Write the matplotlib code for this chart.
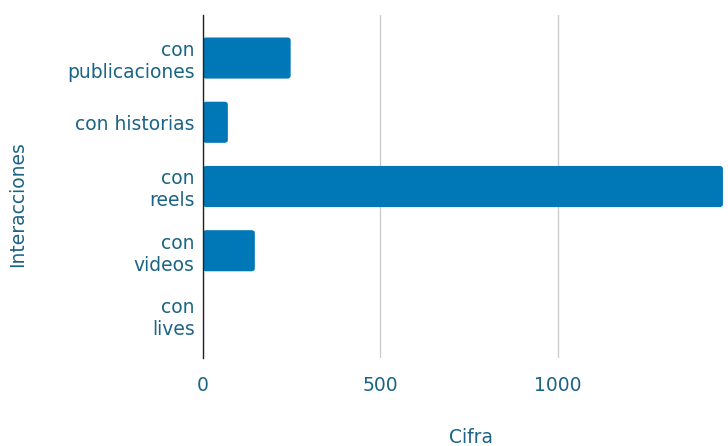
import matplotlib
matplotlib.use('Agg')
import matplotlib.pyplot as plt
from matplotlib.patches import FancyBboxPatch

categorias = ["con\npublicaciones", "con historias", "con\nreels", "con\nvideos", "con\nlives"]
valores = [247, 70, 1465, 146, 0]

color_barra = "#0077b6"
color_texto = "#1b6485"

plt.rcParams['font.family'] = ['DejaVu Sans']
fig = plt.figure(figsize=(7.28, 4.46), dpi=100)
ax = fig.add_axes([203/728, 1-358/446, 521/728, 343/446])

pos = list(range(len(categorias)))
barras = ax.barh(pos, valores, height=0.64, color=color_barra)

# esquinas redondeadas: cambiar cada barra por un FancyBboxPatch
for b in barras:
    x, y = b.get_x(), b.get_y()
    w, h = b.get_width(), b.get_height()
    b.set_visible(False)
    if w <= 0:
        continue
    p = FancyBboxPatch((x, y), w, h, boxstyle="round,pad=0,rounding_size=9",
                       mutation_aspect=0.0052, facecolor=color_barra,
                       edgecolor="none", zorder=3)
    ax.add_patch(p)

ax.set_xlim(0, 1468)
ax.set_ylim(len(categorias) - 0.33, -0.67)
ax.set_yticks(pos)
ax.set_yticklabels(categorias, fontsize=13.5, color=color_texto, linespacing=1.2)
ax.set_xticks([0, 500, 1000])
ax.set_xticklabels(["0", "500", "1000"], fontsize=13.5, color=color_texto)
ax.tick_params(axis='y', length=0, pad=6)
ax.tick_params(axis='x', length=0, pad=13)

ax.grid(axis='x', color="#cccccc", linewidth=1)
ax.set_axisbelow(True)
for s in ['top', 'right', 'bottom']:
    ax.spines[s].set_visible(False)
ax.spines['left'].set_color("#222222")
ax.spines['left'].set_linewidth(1)
ax.spines['left'].set_zorder(4)

ax.set_xlabel("Cifra", fontsize=13.5, color=color_texto)
ax.xaxis.set_label_coords(0.515, -0.203)
ax.set_ylabel("Interacciones", fontsize=13.5, color=color_texto)
ax.yaxis.set_label_coords(-0.337, 0.45)

plt.savefig("out.png", dpi=100)
